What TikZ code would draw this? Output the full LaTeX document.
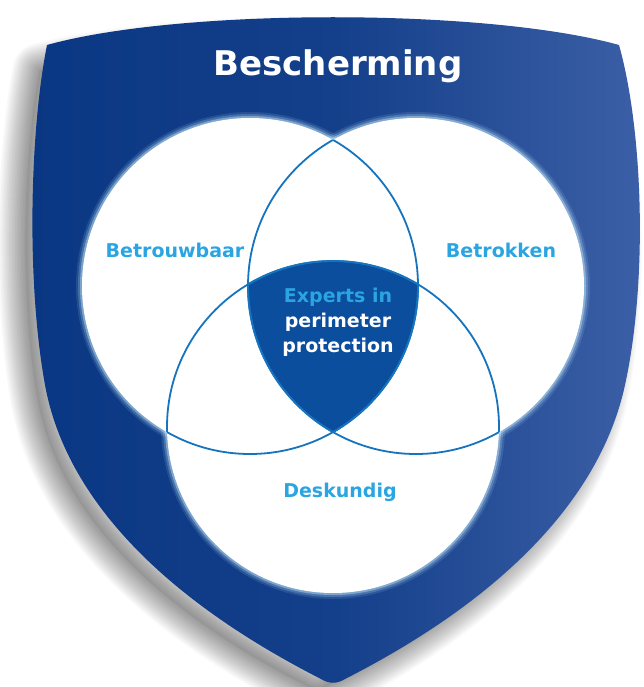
\documentclass[tikz,border=0pt]{standalone}
\usepackage{fontspec}
\setmainfont{DejaVu Sans}
\definecolor{shieldL}{HTML}{0A3783}
\definecolor{shieldR}{HTML}{3C60A7}
\definecolor{core}{HTML}{0B4E9E}
\definecolor{vline}{HTML}{1674BE}
\definecolor{lbl}{HTML}{2AA5E2}
\definecolor{glow}{HTML}{BFE6FA}
\begin{document}
\begin{tikzpicture}[x=1pt,y=-1pt,
  lbltext/.style={font=\fontsize{19}{25}\selectfont\bfseries, text=lbl, inner sep=0pt, anchor=base},
  coretext/.style={font=\fontsize{19}{25}\selectfont\bfseries, text=white, inner sep=0pt, anchor=base},
  venn/.style={draw=vline, line width=1.8pt}]
\def\cA{(250,286) circle[radius=168]}
\def\cB{(416,286) circle[radius=168]}
\def\cC{(333,427) circle[radius=166]}
\def\shieldpath{(47,45) .. controls (180,8) and (486,8) .. (619,45)
  .. controls (643,130) and (648,280) .. (625,385)
  .. controls (600,500) and (500,600) .. (345,679)
  .. controls (337,684) and (329,684) .. (321,679)
  .. controls (166,600) and (66,500) .. (45,385)
  .. controls (26,280) and (30,130) .. (47,45) -- cycle}
\useasboundingbox (0,0) rectangle (644,687);
\fill[white] (0,0) rectangle (644,687);
% soft shadow
\begin{scope}[shift={(-16,16)}, scale around={0.97:(333,360)}]
  \fill[black, opacity=0.06] \shieldpath;
  \foreach \w in {3,6,...,54}{
    \draw[black, opacity=0.022, line width=\w pt, line join=round] \shieldpath;
  }
\end{scope}
% shield
\path[left color=shieldL, right color=shieldR, middle color=shieldL!80!shieldR] \shieldpath;
% glow around the circles
\foreach \r/\o in {12/0.12, 8/0.22, 4/0.45}{
  \draw[glow, line width=\r pt, opacity=\o] \cA;
  \draw[glow, line width=\r pt, opacity=\o] \cB;
  \draw[glow, line width=\r pt, opacity=\o] \cC;
}
\fill[white] \cA; \fill[white] \cB; \fill[white] \cC;
% core
\begin{scope}\clip \cA; \clip \cB; \fill[core] \cC;\end{scope}
% inner arcs
\begin{scope}\clip \cB; \draw[venn] \cA;\end{scope}
\begin{scope}\clip \cC; \draw[venn] \cA;\end{scope}
\begin{scope}\clip \cA; \draw[venn] \cB;\end{scope}
\begin{scope}\clip \cC; \draw[venn] \cB;\end{scope}
\begin{scope}\clip \cA; \draw[venn] \cC;\end{scope}
\begin{scope}\clip \cB; \draw[venn] \cC;\end{scope}
% texts
\node[font=\fontsize{34}{40}\selectfont\bfseries, text=white, inner sep=0pt, anchor=base] (title) at (338,76) {Bescherming};
\node[lbltext] (betrouwbaar) at (175,257) {Betrouwbaar};
\node[lbltext] (betrokken) at (501,257) {Betrokken};
\node[lbltext] (deskundig) at (340,497) {Deskundig};
\node[lbltext] (experts) at (338,302) {Experts in};
\node[coretext] (perimeter) at (338,327) {perimeter};
\node[coretext] (protection) at (338,352) {protection};
\end{tikzpicture}
\end{document}
